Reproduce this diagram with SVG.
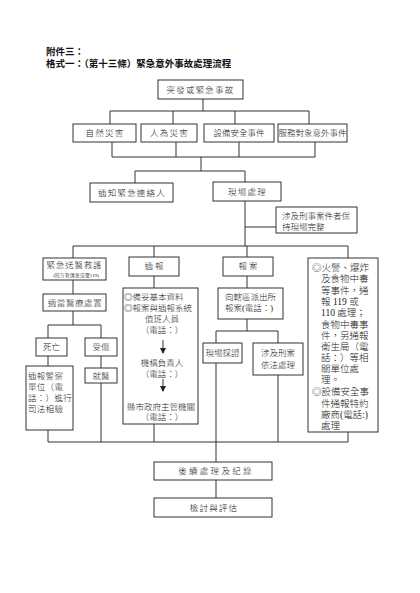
<svg xmlns="http://www.w3.org/2000/svg" width="420" height="593" viewBox="0 0 420 593">
<defs>
<style>
.bx{fill:#fff;stroke:#333;stroke-width:1}
.ln{stroke:#333;stroke-width:1;fill:none}
.t{font-family:"Liberation Serif","Noto Sans CJK TC",serif;font-size:8.5px;fill:#222;font-weight:300}
.c{text-anchor:middle}
.h{font-weight:bold;font-size:9.5px;fill:#111}
.s{font-size:9.5px}
.sm{font-size:5px}
</style>
<marker id="ah" markerWidth="6" markerHeight="6" refX="5" refY="3" orient="auto" markerUnits="userSpaceOnUse">
<path d="M0,0 L6,3 L0,6 Z" fill="#222"/>
</marker>
</defs>
<rect width="420" height="593" fill="#fff"/>
<g id="title">
<text class="t h" x="46" y="54.5">附件三：</text>
<text class="t h" x="46" y="66.5">格式一：（第十三條）緊急意外事故處理流程</text>
</g>
<g id="connectors">
<path class="ln" d="M203,99V111M110,111H309M110,111V124M173,111V124M235,111V124M309,111V124"/>
<path class="ln" d="M112,142V157M176,142V157M239,142V157M315,142V157M112,157H315M201,157V171M135,171H245M135,171V183M245,171V182"/>
<path class="ln" d="M245,201V246M245,227H276M73,246H348M73,246V258M154,246V257M247,246V257M348,246V258"/>
<path class="ln" d="M73,280V294M73,311V325M48,325H101M48,325V338M101,325V338M48,356V366M101,356V368M101,383V442M48,430V442"/>
<path class="ln" d="M154,276V288M154,424V442M247,276V288M247,319V331M216,331H278M216,331V343M278,331V343M216,363V442M278,375V442M348,432V442"/>
<path class="ln" d="M48,442H348M216,442V462M216,480V498"/>
</g>
<g id="n_event"><rect class="bx" x="158" y="80" width="85" height="19"/><text class="t c" x="200.5" y="93" letter-spacing="1.2">突發或緊急事故</text></g>
<g id="n_natural"><rect class="bx" x="73" y="124" width="63" height="18"/><text class="t c" x="105" y="136" letter-spacing="1.2">自然災害</text></g>
<g id="n_human"><rect class="bx" x="141" y="124" width="56" height="18"/><text class="t c" x="169.5" y="136" letter-spacing="1.2">人為災害</text></g>
<g id="n_equip"><rect class="bx" x="204" y="124" width="70" height="18"/><text class="t c" x="239" y="136">設備安全事件</text></g>
<g id="n_client"><rect class="bx" x="278" y="124" width="69" height="18"/><text class="t c" x="312.5" y="136" font-size="8">服務對象意外事件</text></g>
<g id="n_notify"><rect class="bx" x="90" y="183" width="83" height="19"/><text class="t c" x="132" y="195.5" letter-spacing="1.2">通知緊急連絡人</text></g>
<g id="n_scene"><rect class="bx" x="213" y="182" width="68" height="19"/><text class="t c" x="247.5" y="194.5" letter-spacing="1.2">現場處理</text></g>
<g id="n_keep"><rect class="bx" x="276" y="207" width="81" height="26"/><text class="t" x="282" y="219" font-size="8">涉及刑事案件者保</text><text class="t" x="282" y="229.5" font-size="8">持現場完整</text></g>
<g id="n_ambulance"><rect class="bx" x="43" y="258" width="63" height="22"/><text class="t c" x="74.5" y="268" letter-spacing="0.8">緊急送醫救護</text><text class="t c sm" x="76" y="277">(院方救護車或電119)</text></g>
<g id="n_report"><rect class="bx" x="129" y="257" width="50" height="19"/><text class="t c" x="154" y="269">通 報</text></g>
<g id="n_police"><rect class="bx" x="223" y="257" width="50" height="19"/><text class="t c" x="248" y="269">報 案</text></g>
<g id="n_fire"><rect class="bx" x="308" y="258" width="70" height="174"/>
<text class="t s" x="312" y="270.5">◎火警、爆炸</text>
<text class="t s" x="321" y="282">及食物中毒</text>
<text class="t s" x="321" y="293.5">等事件，通</text>
<text class="t s" x="321" y="305">報 119 或</text>
<text class="t s" x="321" y="316">110 處理；</text>
<text class="t s" x="321" y="327.5">食物中毒事</text>
<text class="t s" x="321" y="338.5">件，另通報</text>
<text class="t s" x="321" y="350">衛生局（電</text>
<text class="t s" x="321" y="361">話：）等相</text>
<text class="t s" x="321" y="372">關單位處</text>
<text class="t s" x="321" y="383">理。</text>
<text class="t s" x="312" y="395">◎設備安全事</text>
<text class="t s" x="321" y="406.5">件通報特約</text>
<text class="t s" x="321" y="417.5" font-size="8.5">廠商(電話:)</text>
<text class="t s" x="321" y="428.5">處理</text>
</g>
<g id="n_medical"><rect class="bx" x="43" y="294" width="63" height="17"/><text class="t c" x="75" y="306" letter-spacing="0.6">適當醫療處置</text></g>
<g id="n_death"><rect class="bx" x="36" y="338" width="31" height="18"/><text class="t c" x="51.5" y="350">死亡</text></g>
<g id="n_injury"><rect class="bx" x="85" y="338" width="32" height="18"/><text class="t c" x="101" y="350">受傷</text></g>
<g id="n_police2"><rect class="bx" x="26" y="366" width="47" height="64"/>
<text class="t" x="28" y="379" letter-spacing="0.3">通報警察</text>
<text class="t" x="28" y="390" letter-spacing="0.3">單位（電</text>
<text class="t" x="28" y="401" letter-spacing="0.3">話：）進行</text>
<text class="t" x="28" y="412" letter-spacing="0.3">司法相驗</text>
</g>
<g id="n_hospital"><rect class="bx" x="85" y="368" width="32" height="15"/><text class="t c" x="101" y="379">就醫</text></g>
<g id="n_reportdetail"><rect class="bx" x="123" y="288" width="75" height="136"/>
<text class="t" x="124" y="300">◎備妥基本資料</text>
<text class="t" x="124" y="311">◎報案與通報系統</text>
<text class="t c" x="162" y="321.5">值班人員</text>
<text class="t c" x="162" y="333">（電話：）</text>
<line class="ln" x1="163" y1="340" x2="163" y2="353" marker-end="url(#ah)"/>
<text class="t c" x="162" y="366">機構負責人</text>
<text class="t c" x="162" y="376.5">（電話：）</text>
<line class="ln" x1="163" y1="379" x2="163" y2="391" marker-end="url(#ah)"/>
<text class="t c" x="161" y="410">縣市政府主管機關</text>
<text class="t c" x="162" y="420">（電話：）</text>
</g>
<g id="n_station"><rect class="bx" x="218" y="288" width="65" height="31"/><text class="t" x="225" y="300" font-size="8">向轄區派出所</text><text class="t" x="225" y="310.5" font-size="8">報案(電話：)</text></g>
<g id="n_evidence"><rect class="bx" x="203" y="343" width="39" height="20"/><text class="t c" x="222.5" y="356" font-size="8">現場採證</text></g>
<g id="n_criminal"><rect class="bx" x="253" y="343" width="50" height="32"/><text class="t c" x="278" y="356">涉及刑案</text><text class="t c" x="278" y="368">依法處理</text></g>
<g id="n_followup"><rect class="bx" x="154" y="462" width="118" height="18"/><text class="t c" x="216" y="474" letter-spacing="2.3">後續處理及紀錄</text></g>
<g id="n_review"><rect class="bx" x="154" y="498" width="118" height="19"/><text class="t c" x="214" y="511" letter-spacing="1.2">檢討與評估</text></g>
</svg>
